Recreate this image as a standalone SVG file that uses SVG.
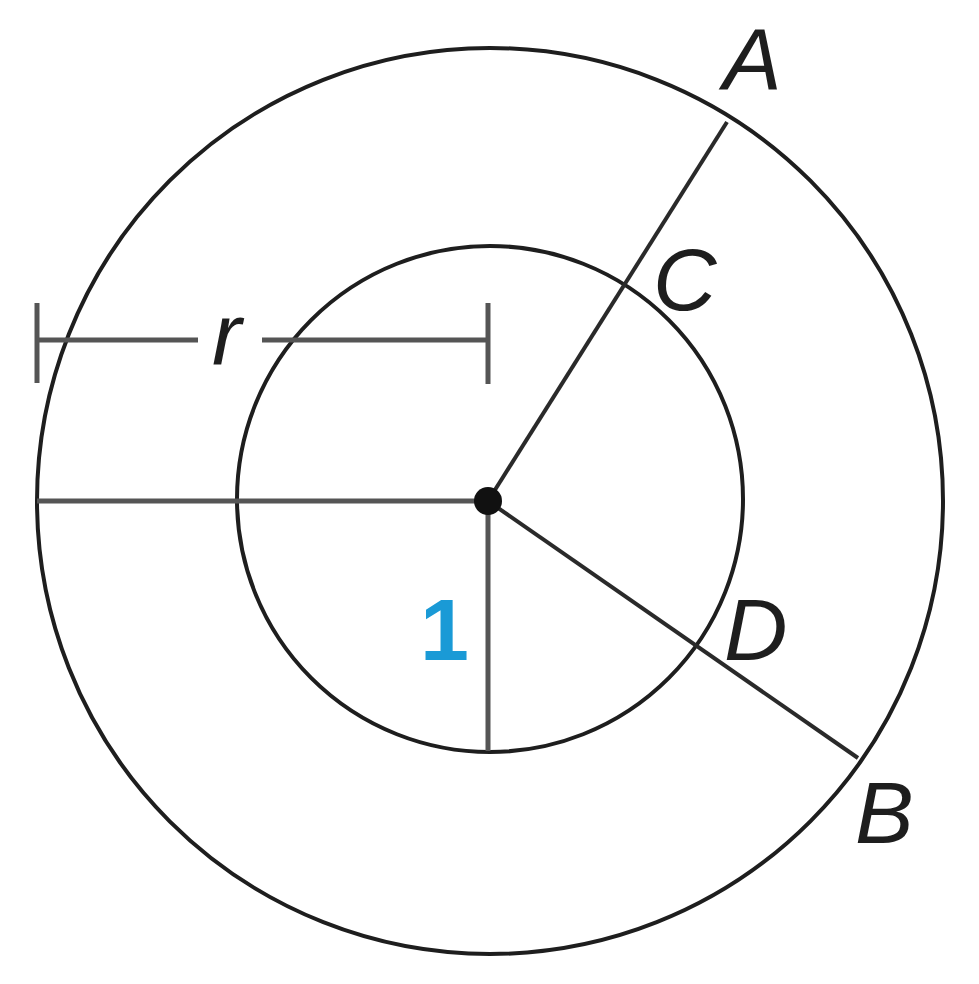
<svg xmlns="http://www.w3.org/2000/svg" width="979" height="984" viewBox="0 0 979 984">
<style>
.c{fill:none;stroke:#1e1e1e;stroke-width:4}
.g{fill:none;stroke:#555;stroke-width:5;stroke-linecap:butt}
.k{fill:none;stroke:#2a2a2a;stroke-width:4}
.t{font-family:"Liberation Sans",Arial,sans-serif;font-style:italic;font-size:88px;fill:#1e1e1e}
.n{font-family:"Liberation Sans",Arial,sans-serif;font-weight:bold;font-size:88px;fill:#1a9ad6}
</style>
<rect width="979" height="984" fill="#fff"/>
<g id="outer"><circle class="c" cx="490" cy="501" r="453"/></g>
<g id="inner"><circle class="c" cx="490" cy="499" r="253"/></g>
<g id="connectors">
<line class="g" x1="37" y1="501" x2="488" y2="501"/>
<line class="g" x1="488" y1="501" x2="488" y2="751"/>
<line class="k" x1="488" y1="501" x2="727" y2="122"/>
<line class="k" x1="488" y1="501" x2="858" y2="758"/>
<line class="g" x1="37" y1="340" x2="198" y2="340"/>
<line class="g" x1="262" y1="340" x2="488" y2="340"/>
<line class="g" x1="37" y1="303" x2="37" y2="383"/>
<line class="g" x1="488" y1="303" x2="488" y2="384"/>
</g>
<g id="center"><circle cx="488" cy="501" r="14" fill="#111"/></g>
<g id="labels">
<text class="t" x="723" y="90">A</text>
<text class="t" x="653" y="310">C</text>
<text class="t" x="724" y="660">D</text>
<text class="t" x="855" y="843">B</text>
<text class="t" x="212" y="365">r</text>
<text class="n" x="420" y="660">1</text>
</g>
</svg>
